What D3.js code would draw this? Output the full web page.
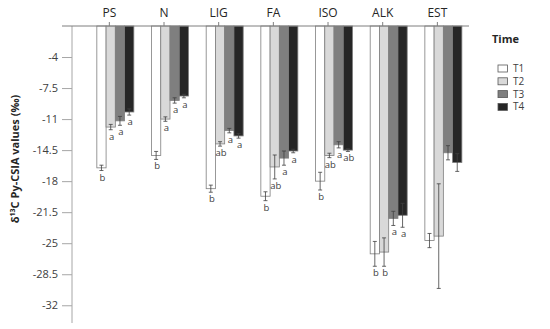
<!DOCTYPE html>
<html><head><meta charset="utf-8">
<script src="https://cdn.jsdelivr.net/npm/d3@7/dist/d3.min.js"></script>
<style>body{margin:0;background:#fff}svg{display:block}text{font-family:"Open Sans",sans-serif}</style>
</head><body><svg id="c" width="550" height="329"></svg>
<script>
const categories = ["PS","N","LIG","FA","ISO","ALK","EST"];
const seriesNames = ["T1","T2","T3","T4"];
const T1 = [-16.5,-15.1,-18.85,-19.7,-18.0,-26.2,-24.7];
const T2 = [-11.9,-11.0,-13.8,-16.4,-15.1,-26.0,-24.2];
const T3 = [-11.2,-8.9,-12.3,-15.4,-13.9,-22.2,-14.8];
const T4 = [-10.2,-8.4,-12.9,-14.6,-14.5,-21.85,-15.9];
const E1 = [0.3,0.45,0.4,0.5,1.0,1.4,0.8];
const E2 = [0.3,0.25,0.25,1.35,0.25,1.6,5.9];
const E3 = [0.5,0.3,0.25,0.8,0.35,0.8,0.8];
const E4 = [0.35,0.2,0.25,0.2,0.15,1.35,1.0];
const L1 = ["b","b","b","b","b","b",""];
const L2 = ["a","a","ab","ab","ab","b",""];
const L3 = ["a","a","a","a","a","a",""];
const L4 = ["a","a","a","a","ab","a",""];
const yTicks = [-4,-7.5,-11,-14.5,-18,-21.5,-25,-28.5,-32];
const colors = ["#ffffff","#d9d9d9","#7f7f7f","#262626"];

const vals=[T1,T2,T3,T4], errs=[E1,E2,E3,E4], lets=[L1,L2,L3,L4];
const svg = d3.select("#c");
const y = d3.scaleLinear().domain([-0.5,-34]).range([26,323]);
const x = d3.scaleBand().domain(categories).range([82,464.7]).padding(0);
const xs = d3.scaleBand().domain(seriesNames).range([0,37]);
const groupOffset = -12.5;

// y axis
const yAxis = svg.append("g").attr("transform","translate(72,0)")
  .call(d3.axisLeft(y).tickValues(yTicks).tickSize(10).tickPadding(4).tickFormat(d=>d));
yAxis.select(".domain").remove();
yAxis.selectAll("line").attr("stroke","#a6a6a6");
yAxis.selectAll("text").attr("font-size","11px").attr("fill","#404040");
svg.append("line").attr("x1",72).attr("x2",72).attr("y1",26).attr("y2",323).attr("stroke","#a6a6a6");

// bars
seriesNames.forEach((s,si)=>{
  const g = svg.append("g");
  g.selectAll("rect").data(categories).enter().append("rect")
    .attr("x",(c)=>x(c)+x.bandwidth()/2+groupOffset+xs(s))
    .attr("width",xs.bandwidth())
    .attr("y",y(-0.5))
    .attr("height",(c,i)=>y(vals[si][i])-y(-0.5))
    .attr("fill",colors[si]).attr("stroke","#7f7f7f").attr("stroke-width",0.8);
});
// error bars and letters
seriesNames.forEach((s,si)=>{
  categories.forEach((c,i)=>{
    const cx = x(c)+x.bandwidth()/2+groupOffset+xs(s)+xs.bandwidth()/2;
    const v=vals[si][i], e=errs[si][i];
    const y1=y(v+e), y2=y(v-e);
    svg.append("line").attr("x1",cx).attr("x2",cx).attr("y1",y1).attr("y2",y2).attr("stroke","#404040").attr("stroke-width",0.8);
    [y1,y2].forEach(yy=>svg.append("line").attr("x1",cx-2).attr("x2",cx+2).attr("y1",yy).attr("y2",yy).attr("stroke","#404040").attr("stroke-width",0.8));
    if(lets[si][i]) svg.append("text").attr("x",cx+1).attr("y",y2+10).attr("text-anchor","middle")
      .attr("font-size","9.5px").attr("fill","#404040").text(lets[si][i]);
  });
});

// top x axis
const xAxis = svg.append("g").attr("transform","translate(0,26)")
  .call(d3.axisTop(x).tickSize(4).tickPadding(5));
xAxis.select(".domain").remove();
xAxis.selectAll("line").attr("stroke","#7f7f7f");
xAxis.selectAll("text").attr("font-size","12px").attr("fill","#262626");
svg.append("line").attr("x1",62).attr("x2",469).attr("y1",26).attr("y2",26).attr("stroke","#7f7f7f");

// y title
svg.append("text").attr("transform","translate(19,159) rotate(-90)").attr("text-anchor","middle")
  .attr("font-size","11px").attr("font-weight","bold").attr("fill","#262626")
  .html('δ<tspan baseline-shift="super" font-size="7px">13</tspan>C Py-CSIA values (‰)');

// legend
svg.append("text").attr("x",492).attr("y",43).attr("font-size","11px").attr("font-weight","bold").attr("fill","#262626").text("Time");
const lg = svg.append("g");
seriesNames.forEach((s,si)=>{
  const yy = 68.5 + si*12.8;
  lg.append("rect").attr("x",498).attr("y",yy-3.5).attr("width",9.5).attr("height",7)
    .attr("fill",colors[si]).attr("stroke","#595959").attr("stroke-width",0.8);
  lg.append("text").attr("x",513).attr("y",yy+3.5).attr("font-size","10px").attr("fill","#404040").text(s);
});
</script></body></html>
